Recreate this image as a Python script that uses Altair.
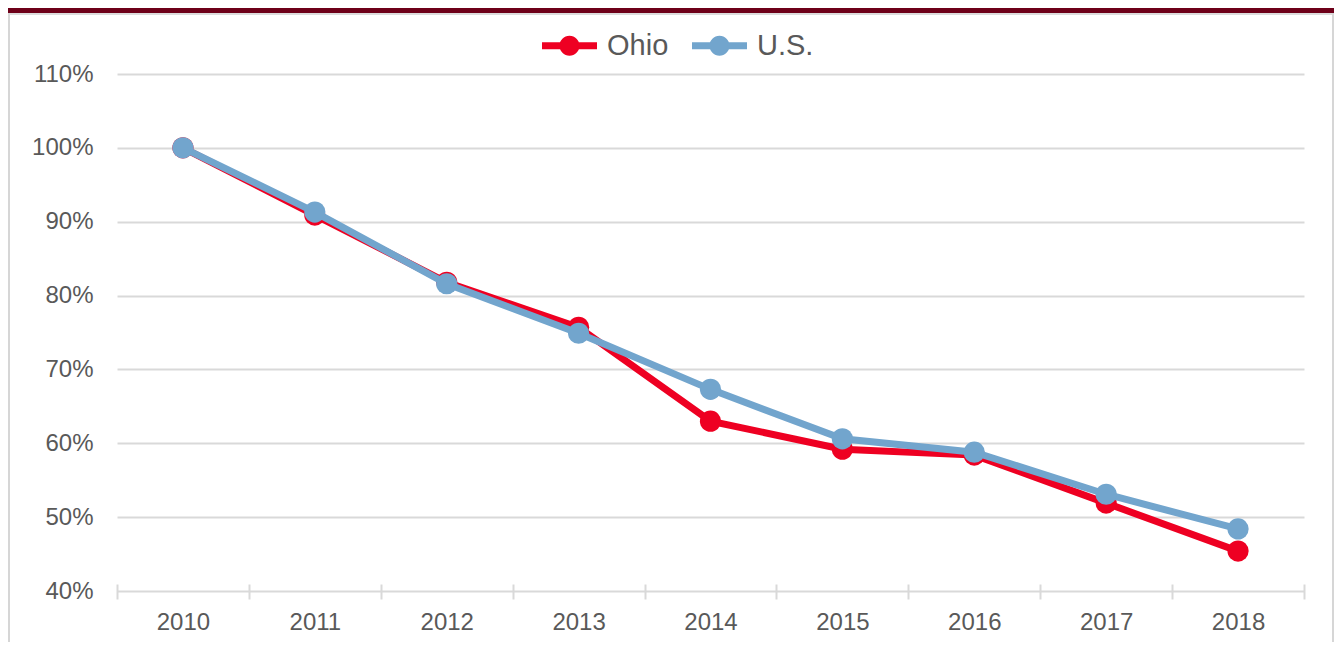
import altair as alt
import pandas as pd

years = [2010, 2011, 2012, 2013, 2014, 2015, 2016, 2017, 2018]
ohio = [100.0, 90.9, 81.8, 75.7, 63.0, 59.2, 58.4, 51.9, 45.4]
us = [100.0, 91.3, 81.6, 74.9, 67.3, 60.6, 58.8, 53.1, 48.4]
series_names = ["Ohio", "U.S."]
series_colors = ["#EE0022", "#72A5CD"]
y_ticks = [0.4, 0.5, 0.6, 0.7, 0.8, 0.9, 1.0, 1.1]

rows = []
for name, vals in zip(series_names, [ohio, us]):
    for yr, v in zip(years, vals):
        rows.append({"year": yr, "series": name, "value": v / 100.0})
df = pd.DataFrame(rows)

x_values = sorted([y - 0.5 for y in years] + [years[-1] + 0.5] + years)

FONT = "Liberation Sans"
TXT = "#595959"
GRID = "#d9d9d9"

legend_path = (
    "M-2.75,-0.35 L2.75,-0.35 L2.75,0.35 L-2.75,0.35 Z "
    "M0,-1 A1,1 0 1,1 0,1 A1,1 0 1,1 0,-1 Z"
)

x_enc = alt.X(
    "year:Q",
    scale=alt.Scale(domain=[years[0] - 0.5, years[-1] + 0.5], nice=False, zero=False),
    axis=alt.Axis(
        values=x_values,
        labelExpr="datum.value % 1 == 0 ? format(datum.value, 'd') : ''",
        tickOpacity={"condition": {"test": "datum.value % 1 != 0", "value": 1}, "value": 0},
        grid=False,
        domain=False,
        offset=-7,
        tickSize=15,
        tickWidth=2,
        tickColor=GRID,
        labelFontSize=24,
        labelFont=FONT,
        labelColor=TXT,
        labelPadding=11,
        labelOverlap=False,
        labelFlush=False,
        title=None,
    ),
)
y_enc = alt.Y(
    "value:Q",
    scale=alt.Scale(domain=[0.4, 1.1], nice=False, zero=False),
    axis=alt.Axis(
        values=y_ticks,
        format=".0%",
        ticks=False,
        domain=False,
        gridColor=GRID,
        gridWidth=2,
        labelPadding=24,
        labelFontSize=24,
        labelFont=FONT,
        labelColor=TXT,
        title=None,
    ),
)
color_scale = alt.Scale(domain=series_names, range=series_colors)
legend = alt.Legend(
    title=None,
    orient="none",
    legendX=438,
    legendY=-43,
    direction="horizontal",
    symbolType=legend_path,
    symbolSize=400,
    symbolStrokeWidth=0,
    labelFontSize=29,
    labelFont=FONT,
    labelColor=TXT,
    labelOffset=23,
    columnPadding=23,
)

base = alt.Chart(df).encode(x=x_enc, y=y_enc)
layers = []
for name, col in zip(series_names, series_colors):
    sub = base.transform_filter(alt.datum.series == name)
    layers.append(sub.mark_line(strokeWidth=7, color=col))
    layers.append(
        sub.mark_circle(size=450, opacity=1).encode(
            color=alt.Color("series:N", scale=color_scale, legend=legend)
        )
    )

frame_df = pd.DataFrame({"k": [0]})
top_bar = alt.Chart(frame_df).mark_rule(color="#6E0019", strokeWidth=5).encode(
    x=alt.value(-109), x2=alt.value(1217), y=alt.value(-63.5)
)
top_line = alt.Chart(frame_df).mark_rule(color="#dcdcdc", strokeWidth=2).encode(
    x=alt.value(-109), x2=alt.value(1217), y=alt.value(-60)
)
left_line = alt.Chart(frame_df).mark_rule(color="#d6d6d6", strokeWidth=2).encode(
    x=alt.value(-108), y=alt.value(-61), y2=alt.value(568)
)
right_line = alt.Chart(frame_df).mark_rule(color="#d6d6d6", strokeWidth=2).encode(
    x=alt.value(1216), y=alt.value(-61), y2=alt.value(568)
)

chart = (
    alt.layer(top_bar, top_line, left_line, right_line, *layers)
    .properties(
        width=1187,
        height=517,
        autosize=alt.AutoSizeParams(type="none"),
        padding={"left": 109, "top": 66, "right": 30, "bottom": 51},
        background="white",
    )
    .configure_view(stroke=None)
)

chart.save("out.html", embed_options={"renderer": "svg", "actions": False})
